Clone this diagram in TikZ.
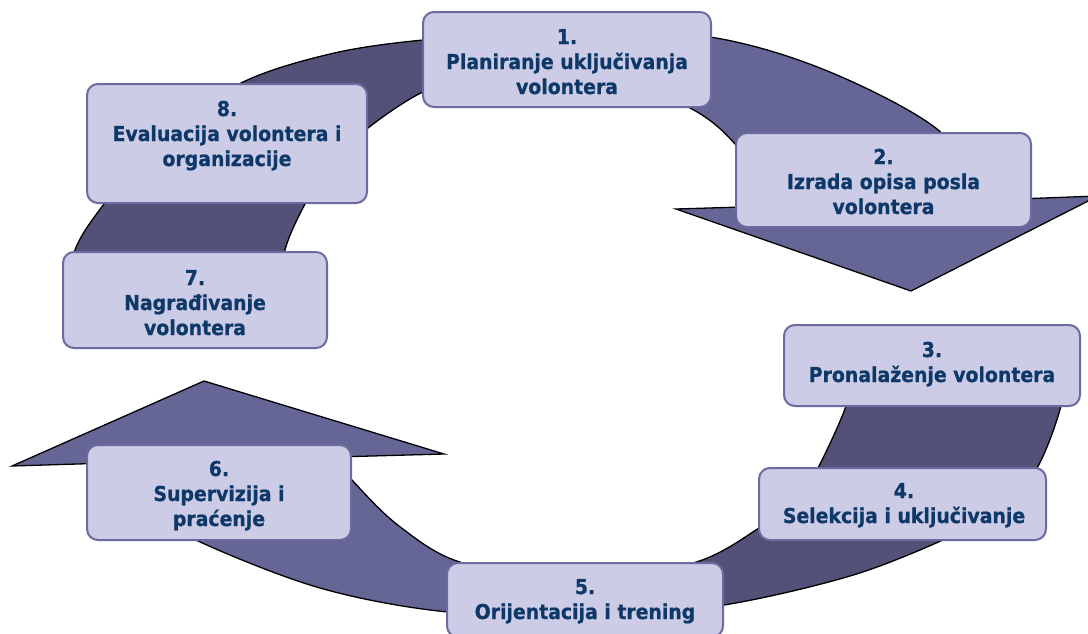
\documentclass[tikz,border=0pt]{standalone}
\usepackage{fontspec}
\setmainfont{DejaVu Sans}[FakeStretch=0.92, BoldFeatures={FakeBold=0.8}]
\definecolor{arrowlight}{RGB}{102,102,150}
\definecolor{arrowdark}{RGB}{83,81,120}
\definecolor{boxfill}{RGB}{204,204,230}
\definecolor{boxline}{RGB}{107,107,160}
\definecolor{txtcol}{RGB}{14,56,104}
\tikzset{
  stepbox/.style={draw=boxline, fill=boxfill, line width=2pt, rounded corners=11pt, inner sep=0pt},
  lbl/.style={text=txtcol, align=center, inner sep=0pt, font=\fontsize{20.5}{25}\selectfont\bfseries},
  outline/.style={draw=black, line width=1.3pt, line join=miter}
}
\def\toparrowpath{plot[smooth,tension=0.55] coordinates {(68,300) (75,250) (104,204) (160,138) (241,83) (330,54) (423,40) (570,30) (710,37) (825,70) (937,129) (990,200)}
  -- (1098,196) -- (911,291) -- (676,209) -- (775,206)
  -- plot[smooth,tension=0.55] coordinates {(775,206) (735,144) (690,108) (620,85) (540,78) (470,82) (423,92) (368,128) (330,165) (305,204) (285,250) (280,300)} -- cycle}
\def\botarrowpath{plot[smooth,tension=0.55] coordinates {(1066,360) (1061,406) (1037,468) (1000,510) (943,540) (850,576) (724,605) (600,616) (448,612) (320,588) (198,541) (140,505) (110,463)}
  -- (12,466) -- (204,381) -- (444,454) -- (335,457)
  -- plot[smooth,tension=0.55] coordinates {(335,457) (352,480) (399,526) (463,563) (580,578) (693,563) (759,528) (800,495) (818,468) (846,406) (855,360)} -- cycle}
\begin{document}
\begin{tikzpicture}[x=1pt,y=-1pt]
\useasboundingbox (0,0) rectangle (1088,633);
\clip (0,0) rectangle (1088,633);
\fill[white] (0,0) rectangle (1088,633);
% top arrow
\fill[arrowlight] \toparrowpath;
\begin{scope}
  \clip (0,0) rectangle (560,633);
  \fill[arrowdark] \toparrowpath;
\end{scope}
\path[outline] \toparrowpath;
% bottom arrow
\fill[arrowlight] \botarrowpath;
\begin{scope}
  \clip (590,0) rectangle (1088,633);
  \fill[arrowdark] \botarrowpath;
\end{scope}
\path[outline] \botarrowpath;
% boxes
\node[stepbox, minimum width=288pt, minimum height=95pt] (b1) at (567,59.5) {};
\node[stepbox, minimum width=295pt, minimum height=94pt] (b2) at (883.5,180) {};
\node[stepbox, minimum width=296pt, minimum height=81pt] (b3) at (932,365.5) {};
\node[stepbox, minimum width=287pt, minimum height=72pt] (b4) at (902.5,504) {};
\node[stepbox, minimum width=276pt, minimum height=74pt] (b5) at (585,600) {};
\node[stepbox, minimum width=264pt, minimum height=95pt] (b6) at (219,492.5) {};
\node[stepbox, minimum width=264pt, minimum height=96pt] (b7) at (195,300) {};
\node[stepbox, minimum width=280pt, minimum height=119pt] (b8) at (227,143.5) {};
% labels
\node[lbl] (t1) at (567,64) {\strut 1.\\Planiranje uključivanja\\volontera\strut};
\node[lbl] (t2) at (883.5,184) {\strut 2.\\Izrada opisa posla\\volontera\strut};
\node[lbl] (t3) at (932,364.5) {\strut 3.\\Pronalaženje volontera\strut};
\node[lbl] (t4) at (904,505.5) {\strut 4.\\Selekcija i uključivanje\strut};
\node[lbl] (t5) at (585,601.5) {\strut 5.\\Orijentacija i trening\strut};
\node[lbl] (t6) at (219,496) {\strut 6.\\Supervizija i\\praćenje\strut};
\node[lbl] (t7) at (195,305) {\strut 7.\\Nagrađivanje\\volontera\strut};
\node[lbl] (t8) at (227,136) {\strut 8.\\Evaluacija volontera i\\organizacije\strut};
\end{tikzpicture}
\end{document}
